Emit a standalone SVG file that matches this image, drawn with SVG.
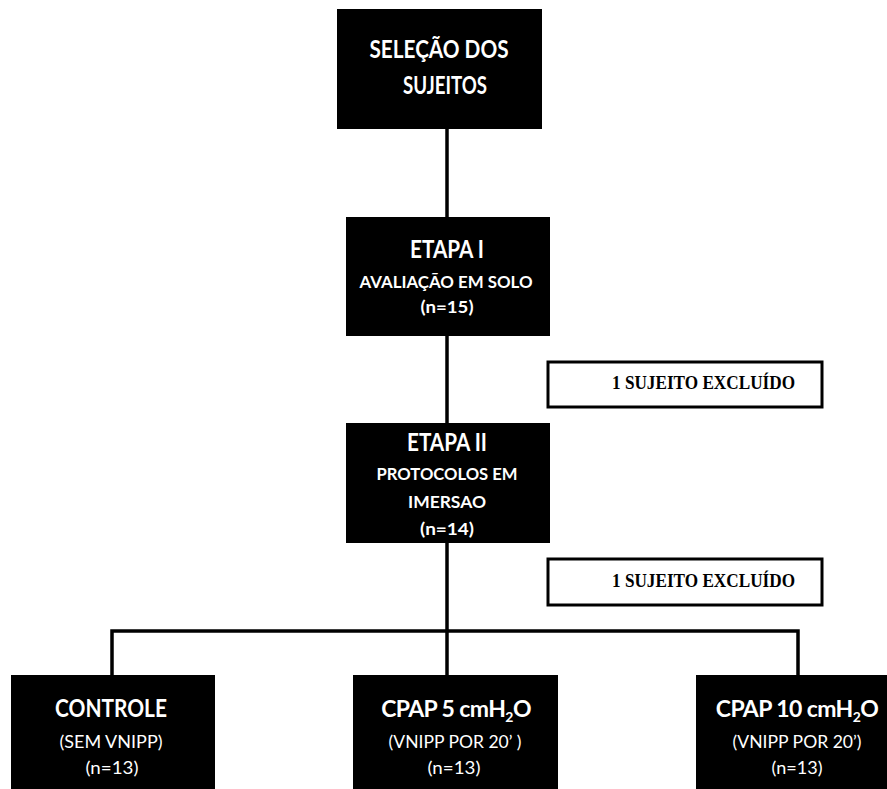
<svg xmlns="http://www.w3.org/2000/svg" width="887" height="789" viewBox="0 0 887 789">
<style>
.box{fill:#000;}
.exc{fill:#fff;stroke:#000;stroke-width:3;}
.ln{stroke:#000;stroke-width:3.5;fill:none;stroke-linecap:square;}
text{fill:#fff;font-family:Lato,"Open Sans","Liberation Sans",sans-serif;text-anchor:middle;}
.t{font-size:24px;font-weight:bold;}
.c{font-size:23px;font-weight:bold;letter-spacing:-0.6px;}
.s{font-size:17px;font-weight:bold;}
.r{font-size:18px;font-weight:normal;}
.sub{font-size:14px;}
.x{fill:#000;font-family:"Liberation Serif",serif;font-size:19px;font-weight:bold;text-anchor:start;}
</style>
<rect width="887" height="789" fill="#fff"/>
<g id="connectors">
<line class="ln" x1="447" y1="129" x2="447" y2="217"/>
<line class="ln" x1="447" y1="336" x2="447" y2="423"/>
<line class="ln" x1="447" y1="543" x2="447" y2="675"/>
<polyline class="ln" points="112,675 112,631 798,631 798,675"/>
</g>
<g id="selecao">
<rect class="box" x="337" y="9" width="205" height="120"/>
<text class="t" x="439" y="58" textLength="139" lengthAdjust="spacingAndGlyphs">SELEÇÃO DOS</text>
<text class="t" x="445" y="94" textLength="84" lengthAdjust="spacingAndGlyphs">SUJEITOS</text>
</g>
<g id="etapa1">
<rect class="box" x="346" y="217" width="204" height="119"/>
<text class="t" x="447" y="258" textLength="74" lengthAdjust="spacingAndGlyphs">ETAPA I</text>
<text class="s" x="446" y="288" textLength="173" lengthAdjust="spacingAndGlyphs">AVALIAÇÃO EM SOLO</text>
<text class="s" x="447" y="313" textLength="53" lengthAdjust="spacingAndGlyphs">(n=15)</text>
</g>
<g id="excluido1">
<rect class="exc" x="548" y="362" width="274" height="45"/>
<text class="x" x="612" y="389" textLength="183" lengthAdjust="spacingAndGlyphs">1 SUJEITO EXCLUÍDO</text>
</g>
<g id="etapa2">
<rect class="box" x="346" y="423" width="204" height="120"/>
<text class="t" x="447" y="451" textLength="80" lengthAdjust="spacingAndGlyphs">ETAPA II</text>
<text class="s" x="447" y="480" textLength="141" lengthAdjust="spacingAndGlyphs">PROTOCOLOS EM</text>
<text class="s" x="447" y="508" textLength="78" lengthAdjust="spacingAndGlyphs">IMERSAO</text>
<text class="s" x="447" y="535" textLength="54" lengthAdjust="spacingAndGlyphs">(n=14)</text>
</g>
<g id="excluido2">
<rect class="exc" x="548" y="559" width="274" height="46"/>
<text class="x" x="612" y="587" textLength="183" lengthAdjust="spacingAndGlyphs">1 SUJEITO EXCLUÍDO</text>
</g>
<g id="controle">
<rect class="box" x="11" y="675" width="204" height="114"/>
<text class="t" x="111" y="717" textLength="112" lengthAdjust="spacingAndGlyphs">CONTROLE</text>
<text class="r" x="111" y="748" textLength="103" lengthAdjust="spacingAndGlyphs">(SEM VNIPP)</text>
<text class="r" x="112" y="774" textLength="53" lengthAdjust="spacingAndGlyphs">(n=13)</text>
</g>
<g id="cpap5">
<rect class="box" x="353" y="675" width="205" height="114"/>
<text class="c" x="456" y="717">CPAP 5 cmH<tspan class="sub" dy="5">2</tspan><tspan dy="-5">O</tspan></text>
<text class="r" x="455" y="748" textLength="133" lengthAdjust="spacingAndGlyphs">(VNIPP POR 20’ )</text>
<text class="r" x="454" y="774" textLength="53" lengthAdjust="spacingAndGlyphs">(n=13)</text>
</g>
<g id="cpap10">
<rect class="box" x="696" y="675" width="191" height="114"/>
<text class="c" x="797" y="717">CPAP 10 cmH<tspan class="sub" dy="5">2</tspan><tspan dy="-5">O</tspan></text>
<text class="r" x="797" y="748" textLength="129" lengthAdjust="spacingAndGlyphs">(VNIPP POR 20’)</text>
<text class="r" x="797" y="774" textLength="51" lengthAdjust="spacingAndGlyphs">(n=13)</text>
</g>
</svg>
